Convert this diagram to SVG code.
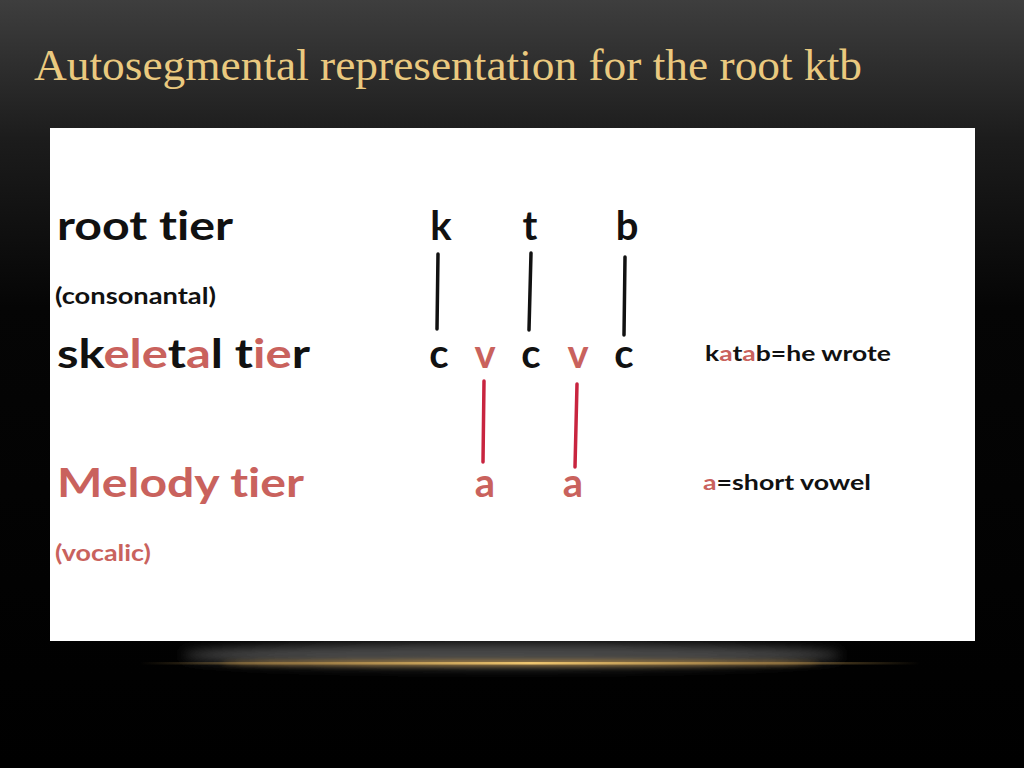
<svg xmlns="http://www.w3.org/2000/svg" width="1024" height="768" viewBox="0 0 1024 768">
<defs>
<linearGradient id="bg" x1="0" y1="0" x2="0" y2="1">
<stop offset="0" stop-color="#3e3e3e"/>
<stop offset="0.18" stop-color="#1c1c1c"/>
<stop offset="0.4" stop-color="#050505"/>
<stop offset="1" stop-color="#000"/>
</linearGradient>
<linearGradient id="gold" x1="0" y1="0" x2="1" y2="0">
<stop offset="0" stop-color="#e2b35a" stop-opacity="0"/>
<stop offset="0.2" stop-color="#b08a4a" stop-opacity="0.6"/>
<stop offset="0.5" stop-color="#f0c770"/>
<stop offset="0.8" stop-color="#b08a4a" stop-opacity="0.6"/>
<stop offset="1" stop-color="#e2b35a" stop-opacity="0"/>
</linearGradient>
<filter id="blur" x="-20%" y="-200%" width="140%" height="500%"><feGaussianBlur stdDeviation="6"/></filter>
<filter id="blur2" x="-20%" y="-300%" width="140%" height="700%"><feGaussianBlur stdDeviation="2.5"/></filter>
<style>
.t{font-family:Lato,"Open Sans","Liberation Sans",sans-serif;font-weight:bold;fill:#111;font-variant-ligatures:none}
.r{fill:#c9625d}
.big{font-size:40px}
.sm{font-size:22px}
.md{font-size:21px}
.let{font-size:40px;text-anchor:middle}
.bl{stroke:#111;stroke-width:3.5;stroke-linecap:round}
.rl{stroke:#c8243f;stroke-width:3.5;stroke-linecap:round}
</style>
</defs>
<rect width="1024" height="768" fill="url(#bg)"/>
<text x="34" y="80" font-family="'Liberation Serif',serif" font-size="44" fill="#eac97f" textLength="828" lengthAdjust="spacingAndGlyphs">Autosegmental representation for the root ktb</text>
<ellipse cx="512" cy="655" rx="330" ry="12" fill="#4a4a4a" filter="url(#blur)"/>
<rect x="50" y="128" width="925" height="513" fill="#fff"/>
<ellipse cx="520" cy="663" rx="300" ry="3" fill="#c9994a" opacity="0.7" filter="url(#blur2)"/>
<rect x="140" y="662" width="780" height="2.5" fill="url(#gold)"/>
<g id="labels">
<g id="root-tier"><text class="t big" x="57" y="240" textLength="176" lengthAdjust="spacingAndGlyphs">root tier</text></g>
<g id="consonantal"><text class="t sm" x="55" y="304" textLength="161" lengthAdjust="spacingAndGlyphs">(consonantal)</text></g>
<g id="skeletal-tier"><text class="t big" x="57" y="368" textLength="253" lengthAdjust="spacingAndGlyphs">sk<tspan class="r">ele</tspan>t<tspan class="r">a</tspan>l t<tspan class="r">ie</tspan>r</text></g>
<g id="melody-tier"><text class="t big r" x="57" y="497" textLength="247" lengthAdjust="spacingAndGlyphs">Melody tier</text></g>
<g id="vocalic"><text class="t sm r" x="55" y="561" textLength="96" lengthAdjust="spacingAndGlyphs">(vocalic)</text></g>
<g id="katab"><text class="t md" x="705" y="361" textLength="186" lengthAdjust="spacingAndGlyphs">k<tspan class="r">a</tspan>t<tspan class="r">a</tspan>b=he wrote</text></g>
<g id="short-vowel"><text class="t md" x="703" y="490" textLength="168" lengthAdjust="spacingAndGlyphs"><tspan class="r">a</tspan>=short vowel</text></g>
</g>
<g id="root-k"><text class="t let" x="441" y="240">k</text></g>
<g id="root-t"><text class="t let" x="530" y="240">t</text></g>
<g id="root-b"><text class="t let" x="627" y="240">b</text></g>
<g id="sk-c1"><text class="t let" x="439" y="368">c</text></g>
<g id="sk-v1"><text class="t let r" x="485" y="368">v</text></g>
<g id="sk-c2"><text class="t let" x="531" y="368">c</text></g>
<g id="sk-v2"><text class="t let r" x="578" y="368">v</text></g>
<g id="sk-c3"><text class="t let" x="624" y="368">c</text></g>
<g id="mel-a1"><text class="t let r" x="485" y="497">a</text></g>
<g id="mel-a2"><text class="t let r" x="573" y="497">a</text></g>
<g id="connectors">
<line class="bl" x1="438" y1="254" x2="437" y2="329"/>
<line class="bl" x1="531" y1="253" x2="529" y2="330"/>
<line class="bl" x1="625" y1="257" x2="624" y2="335"/>
<line class="rl" x1="484" y1="381" x2="483" y2="462"/>
<line class="rl" x1="577" y1="384" x2="575" y2="467"/>
</g>
</svg>
